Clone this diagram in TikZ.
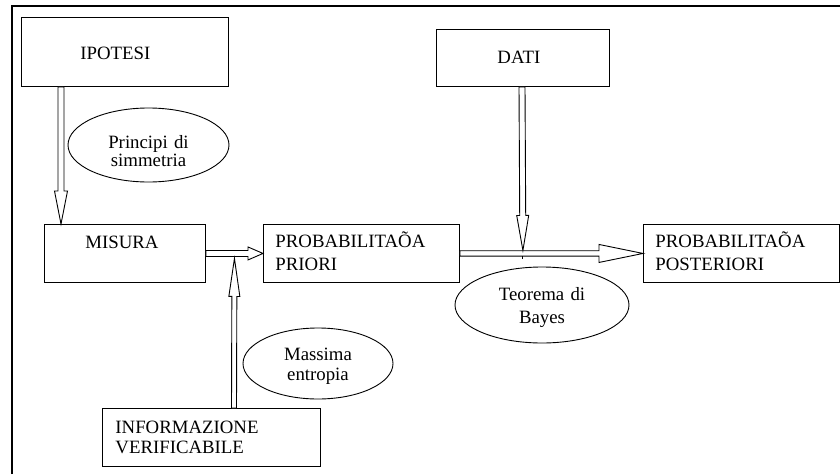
\documentclass[tikz,border=0pt]{standalone}
\usepackage{fontspec}
\setmainfont{Liberation Serif}
\usetikzlibrary{calc,shapes.geometric}
\begin{document}
\begin{tikzpicture}[x=1pt,y=-1pt,
  txt/.style={font=\fontsize{18.8}{23.3}\selectfont},
  box/.style={txt, draw, line width=0.9pt, rectangle, anchor=north west, inner ysep=0pt, align=left},
  oval/.style={txt, draw, line width=0.9pt, ellipse, inner sep=0pt, align=center},
  frameline/.style={line width=2.6pt},
  tickline/.style={line width=0.9pt},
  blockarrow/.style n args={3}{draw, fill=white, line width=0.9pt, line join=miter,
    to path={
      ($(\tikztostart)!#1!90:(\tikztotarget)$)
      -- ($(\tikztotarget)!#3!(\tikztostart)!#1!90:(\tikztotarget)$)
      -- ($(\tikztotarget)!#3!(\tikztostart)!#2!90:(\tikztotarget)$)
      -- (\tikztotarget)
      -- ($(\tikztotarget)!#3!(\tikztostart)!#2!-90:(\tikztotarget)$)
      -- ($(\tikztotarget)!#3!(\tikztostart)!#1!-90:(\tikztotarget)$)
      -- ($(\tikztostart)!#1!-90:(\tikztotarget)$)
      -- cycle}}
]
\useasboundingbox (0,0) rectangle (840,474);

% frame
\draw[frameline] (12,474) -- (12,6) -- (840,6);

% boxes
\node[box, inner xsep=59pt, text width=89pt, text height=42pt, text depth=27pt] (ipotesi) at (21,17) {IPOTESI};
\node[box, inner xsep=61pt, text width=51pt, text height=34pt, text depth=23pt] (dati) at (436,29) {DATI};
\node[box, inner xsep=41pt, text width=79pt, text height=24pt, text depth=34pt] (misura) at (44,224) {MISURA};
\node[box, inner xsep=12pt, text width=172pt, text height=22.7pt, text depth=35.3pt] (priori) at (263,224) {PROBABILITAÕA\\PRIORI};
\node[box, inner xsep=12pt, text width=172pt, text height=22.7pt, text depth=35.3pt] (posteriori) at (643,224) {PROBABILITAÕA\\POSTERIORI};
\node[box, font=\fontsize{18.8}{20}\selectfont, inner xsep=13pt, text width=192pt, text height=25pt, text depth=33pt] (info) at (102,408) {INFORMAZIONE\\VERIFICABILE};

% ellipses
\node[oval, font=\fontsize{18.8}{18}\selectfont, minimum width=161pt, minimum height=74pt, text width=95pt, text height=24pt, text depth=18pt] (simm) at (148.5,145) {Principi di\\simmetria};
\node[oval, minimum width=174pt, minimum height=76pt, text width=95pt, text height=15pt, text depth=25pt] (bayes) at (542,305) {Teorema di\\Bayes};
\node[oval, font=\fontsize{18.8}{20}\selectfont, minimum width=150pt, minimum height=71pt, text width=90pt, text height=14pt, text depth=21pt] (entropia) at (318,363.5) {Massima\\entropia};

% helper coordinates
\coordinate (infotip) at ($(misura.east)!0.5!(priori.west)+(0,5)$);
\coordinate (join) at ($(priori.east)+(63,-3)$);
\coordinate (tickA) at ($(priori.east)+(63,2.5)$);
\coordinate (tickB) at ($(priori.east)+(63,5.5)$);

% arrows
\draw[blockarrow={3pt}{6.5pt}{33pt}] ($(ipotesi.south west)+(40,0)$) to ($(misura.north west)+(17,0)$);
\draw[blockarrow={3pt}{6.5pt}{15pt}] (misura.east) to (priori.west);
\draw[blockarrow={2.5pt}{5.5pt}{38pt}] ($(info.north west)+(132,0)$) to (infotip);
\draw[blockarrow={2.7pt}{9pt}{44pt}] (priori.east) to (posteriori.west);
\draw[blockarrow={3pt}{6pt}{35pt}] ($(dati.south west)+(86,0)$) to (join);
\draw[tickline] (tickA) -- (tickB);
\end{tikzpicture}
\end{document}
